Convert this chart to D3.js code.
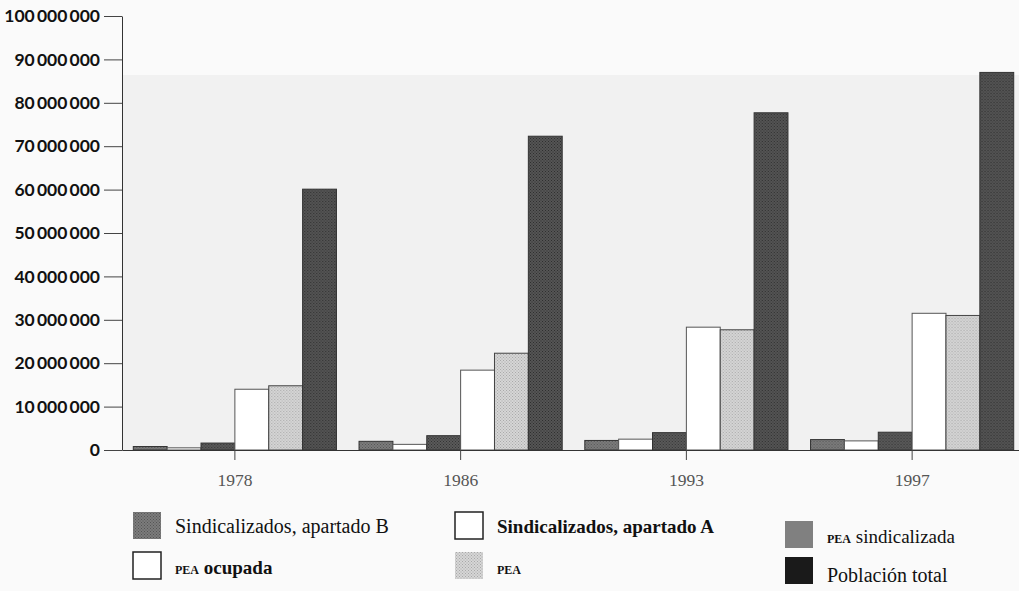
<!DOCTYPE html>
<html>
<head>
<meta charset="utf-8">
<script src="https://cdn.jsdelivr.net/npm/d3@7"></script>
<style>
 html, body { margin: 0; padding: 0; background: #fafafa; }
 svg { display: block; }
</style>
</head>
<body>
<div id="chart"></div>
<script>
const years = ["1978", "1986", "1993", "1997"];
const seriesNames = ["Sindicalizados, apartado B", "Sindicalizados, apartado A", "PEA sindicalizada", "PEA ocupada", "PEA", "Población total"];
const sindB = [800000, 2000000, 2200000, 2400000];
const sindA = [500000, 1300000, 2500000, 2100000];
const peaSind = [1600000, 3300000, 4000000, 4100000];
const peaOcupada = [14000000, 18400000, 28300000, 31500000];
const pea = [14800000, 22300000, 27700000, 31000000];
const poblacion = [60100000, 72300000, 77700000, 87000000];
const yTicks = [0, 10000000, 20000000, 30000000, 40000000, 50000000, 60000000, 70000000, 80000000, 90000000, 100000000];

const seriesValues = [sindB, sindA, peaSind, peaOcupada, pea, poblacion];

const width = 1019, height = 591;
const margin = { left: 122, right: 0, top: 16, bottom: 141 };
const baseY = height - margin.bottom;

const svg = d3.select("#chart").append("svg")
 .attr("width", width)
 .attr("height", height);

// halftone-ish fills
const defs = svg.append("defs");
const fills = [
 { id: "pB", base: "#7c7c7c", dot: "#555" },
 { id: "pA", base: "#ffffff", dot: null },
 { id: "pS", base: "#5a5a5a", dot: "#333" },
 { id: "pO", base: "#ffffff", dot: null },
 { id: "pP", base: "#d6d6d6", dot: "#a8a8a8" },
 { id: "pT", base: "#555555", dot: "#2e2e2e" }
];
fills.forEach(f => {
 const p = defs.append("pattern").attr("id", f.id)
  .attr("width", 3).attr("height", 3).attr("patternUnits", "userSpaceOnUse");
 p.append("rect").attr("width", 3).attr("height", 3).attr("fill", f.base);
 if (f.dot) {
  p.append("rect").attr("x", 0).attr("y", 0).attr("width", 1).attr("height", 1).attr("fill", f.dot);
  p.append("rect").attr("x", 1.5).attr("y", 1.5).attr("width", 1).attr("height", 1).attr("fill", f.dot);
 }
});
const strokes = ["#333", "#555", "#333", "#555", "#444", "#333"];

// plot backdrop like the scanned page
svg.append("rect")
 .attr("x", margin.left).attr("y", 75)
 .attr("width", width - margin.left).attr("height", baseY - 75)
 .attr("fill", "#f1f1f1");

const x0 = d3.scaleBand().domain(years).range([margin.left, width + 6]).paddingInner(0.1).paddingOuter(0.05);
const x1 = d3.scaleBand().domain(d3.range(seriesNames.length)).range([0, x0.bandwidth()]);
const y = d3.scaleLinear().domain([0, 100000000]).range([baseY, margin.top]);

const fmt = v => d3.format(",")(v).replace(/,/g, "\u2009");

// y axis
const yAxis = svg.append("g")
 .attr("transform", `translate(${margin.left},0)`)
 .call(d3.axisLeft(y).tickValues(yTicks).tickSize(18).tickSizeOuter(0).tickPadding(4).tickFormat(fmt));
yAxis.select(".domain").attr("stroke", "#333");
yAxis.selectAll(".tick line").attr("stroke", "#444");
yAxis.selectAll(".tick text")
 .attr("fill", "#111")
 .style("font-family", "Lato, 'Open Sans', sans-serif")
 .style("font-weight", "bold")
 .style("font-size", "17.5px");

// bars
const groups = svg.append("g").selectAll("g")
 .data(years)
 .join("g")
 .attr("transform", d => `translate(${x0(d)},0)`);

groups.selectAll("rect")
 .data((yr, i) => seriesValues.map((vals, s) => ({ s, v: vals[i] })))
 .join("rect")
 .attr("x", d => x1(d.s))
 .attr("y", d => y(d.v))
 .attr("width", x1.bandwidth())
 .attr("height", d => baseY - y(d.v))
 .attr("fill", d => `url(#${fills[d.s].id})`)
 .attr("stroke", d => strokes[d.s])
 .attr("stroke-width", 1);

// x axis
const xAxis = svg.append("g")
 .attr("transform", `translate(0,${baseY})`)
 .call(d3.axisBottom(x0).tickSize(10).tickSizeOuter(0).tickPadding(14));
xAxis.select(".domain").attr("stroke", "#333");
xAxis.selectAll(".tick line").attr("stroke", "#444");
xAxis.selectAll(".tick text")
 .attr("fill", "#555")
 .style("font-family", "'Liberation Serif', 'DejaVu Serif', serif")
 .style("font-size", "17.5px");

// legend
const legendPos = [
 { x: 133, y: 512, tx: 175, ty: 533, bold: false },
 { x: 455, y: 512, tx: 497, ty: 533, bold: true },
 { x: 785, y: 521, tx: 827, ty: 543, bold: false },
 { x: 133, y: 552, tx: 175, ty: 574, bold: true },
 { x: 455, y: 552, tx: 497, ty: 574, bold: true },
 { x: 785, y: 557, tx: 827, ty: 582, bold: false }
];
const legendFills = ["url(#pB)", "#ffffff", "#808080", "#ffffff", "url(#pP)", "#1a1a1a"];

const legend = svg.append("g").selectAll("g")
 .data(seriesNames)
 .join("g");

legend.append("rect")
 .attr("x", (d, i) => legendPos[i].x)
 .attr("y", (d, i) => legendPos[i].y)
 .attr("width", 28)
 .attr("height", 27)
 .attr("fill", (d, i) => legendFills[i])
 .attr("stroke", (d, i) => (i === 1 || i === 3) ? "#222" : "none")
 .attr("stroke-width", 1.5);

const lt = legend.append("text")
 .attr("x", (d, i) => legendPos[i].tx)
 .attr("y", (d, i) => legendPos[i].ty)
 .attr("fill", "#111")
 .style("font-family", "'Liberation Serif', 'DejaVu Serif', serif")
 .style("font-size", "20px")
 .style("font-weight", (d, i) => legendPos[i].bold ? "bold" : "normal");

lt.each(function(d, i) {
 const t = d3.select(this);
 if (d.startsWith("PEA")) {
  t.append("tspan").text("PEA").style("font-size", "12px").style("font-weight", "bold");
  const rest = d.slice(3);
  if (rest) t.append("tspan").text(rest).style("font-size", "19px");
 } else {
  t.text(d);
  if (i === 1) t.style("font-size", "19px");
 }
});
</script>
</body>
</html>
